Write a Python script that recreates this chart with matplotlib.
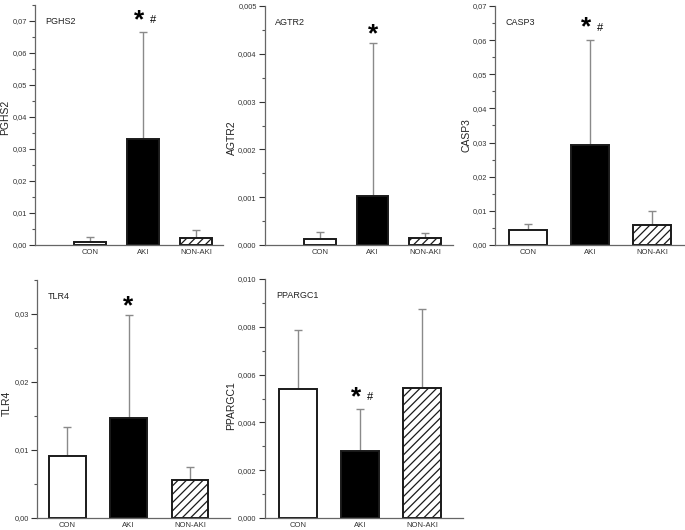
import numpy as np
import matplotlib
matplotlib.use("Agg")
import matplotlib.pyplot as plt
from matplotlib.ticker import MultipleLocator, FuncFormatter

plt.rcParams["font.family"] = ["Liberation Sans", "DejaVu Sans"]
plt.rcParams["hatch.linewidth"] = 0.9

# groups
groups = ["CON", "AKI", "NON-AKI"]

# mean expression and upper SD per gene
pghs2 = [0.0010, 0.0332, 0.0023]
pghs2_sd = [0.0015, 0.0333, 0.0024]
agtr2 = [0.00013, 0.00102, 0.00015]
agtr2_sd = [0.00014, 0.00320, 0.00010]
casp3 = [0.0044, 0.0293, 0.0059]
casp3_sd = [0.0018, 0.0308, 0.0040]
tlr4 = [0.0091, 0.0147, 0.0056]
tlr4_sd = [0.0043, 0.0151, 0.0019]
ppargc1 = [0.00541, 0.00279, 0.00545]
ppargc1_sd = [0.00247, 0.00177, 0.00329]

# significance marks over the AKI bar
marks = {"PGHS2": ("*", "#"), "AGTR2": ("*", ""), "CASP3": ("*", "#"),
         "TLR4": ("*", ""), "PPARGC1": ("*", "#")}

W, H = 685, 530
fig = plt.figure(figsize=(W / 100, H / 100), dpi=100)


def px_axes(left, right, top, bottom):
    return fig.add_axes([left / W, (H - bottom) / H, (right - left) / W, (bottom - top) / H])


panels = [
    # name, means, sd, ylim, major, decimals, axes box (px), xlim, ylabel y-frac
    ("PGHS2", pghs2, pghs2_sd, 0.075, 0.01, 2, (35, 223, 5, 245), (-1.04, 2.51), 0.53),
    ("AGTR2", agtr2, agtr2_sd, 0.005, 0.001, 3, (265, 453, 6, 245), (-1.05, 2.53), 0.45),
    ("CASP3", casp3, casp3_sd, 0.07, 0.01, 2, (495, 685, 6, 245), (-0.53, 2.53), 0.46),
    ("TLR4", tlr4, tlr4_sd, 0.035, 0.01, 2, (37, 230, 280, 518), (-0.49, 2.65), 0.48),
    ("PPARGC1", ppargc1, ppargc1_sd, 0.010, 0.002, 3, (265, 463, 279, 518), (-0.53, 2.66), 0.47),
]

# right edge (px) of each rotated y label
label_x = {"PGHS2": 10, "AGTR2": 237, "CASP3": 472, "TLR4": 12, "PPARGC1": 236}

for name, vals, sd, ytop, major, dec, box, xl, yfrac in panels:
    ax = px_axes(*box)
    x = np.arange(len(groups))
    ax.errorbar(x, vals, yerr=[np.zeros(3), sd], fmt="none", ecolor="#8a8a8a",
                elinewidth=1.0, capsize=3, capthick=1.0, zorder=1)
    ax.bar(x, vals, width=0.6, color=["white", "black", "white"],
           edgecolor="#1a1a1a", linewidth=1.4, zorder=2)
    ax.patches[-1].set_hatch("////")

    ax.set_xlim(*xl)
    ax.set_ylim(0, ytop)
    ax.yaxis.set_major_locator(MultipleLocator(major))
    ax.yaxis.set_minor_locator(MultipleLocator(major / 2))
    ax.yaxis.set_major_formatter(FuncFormatter(lambda v, p, d=dec: f"{v:.{d}f}".replace(".", ",")))
    ax.set_xticks(x)
    ax.set_xticklabels(groups)
    ax.tick_params(axis="x", length=0, labelsize=5.5, colors="#333333", pad=3)
    ax.tick_params(axis="y", which="major", length=4, width=0.8, labelsize=5.3,
                   colors="#333333", pad=2)
    ax.tick_params(axis="y", which="minor", length=2.5, width=0.8, colors="#555555")
    for s in ("top", "right"):
        ax.spines[s].set_visible(False)
    for s in ("left", "bottom"):
        ax.spines[s].set_color("#666666")
        ax.spines[s].set_linewidth(0.9)

    ax.set_ylabel(name, fontsize=7.5, color="#222222")
    x0 = box[0]
    ax.yaxis.set_label_coords((label_x[name] - x0) / (box[1] - x0), yfrac)

    ax.text(0.055, 0.93, name, transform=ax.transAxes, fontsize=6.5,
            color="#222222", va="center", ha="left")

    star, hsh = marks[name]
    top = vals[1] + sd[1]
    if hsh:
        ax.annotate(star, (1, top), xytext=(-3, 0), textcoords="offset points",
                    ha="center", va="bottom", fontsize=19, fontweight="bold")
        ax.annotate(hsh, (1, top), xytext=(7, 5), textcoords="offset points",
                    ha="center", va="bottom", fontsize=8)
    else:
        ax.annotate(star, (1, top), xytext=(0, -2), textcoords="offset points",
                    ha="center", va="bottom", fontsize=19, fontweight="bold")

fig.savefig("out.png", dpi=100)
